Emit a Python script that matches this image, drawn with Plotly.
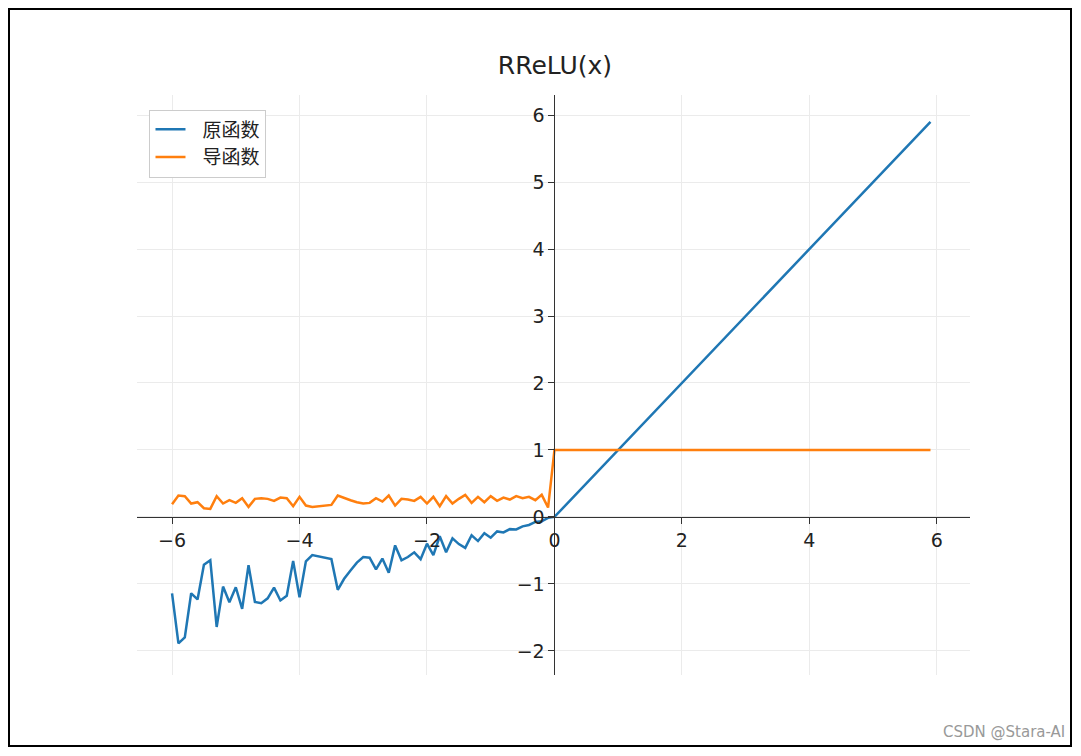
import numpy as np
import plotly.graph_objects as go

x_neg = [round(-6.0 + 0.1*i, 1) for i in range(60)]
slopes = [0.19,0.32,0.31,0.20,0.22,0.13,0.12,0.31,0.20,0.25,
          0.21,0.28,0.15,0.27,0.28,0.27,0.24,0.29,0.28,0.16,
          0.30,0.17,0.15,0.16,0.17,0.18,0.32,0.28,0.25,0.22,
          0.20,0.21,0.28,0.23,0.32,0.17,0.27,0.26,0.24,0.30,
          0.20,0.30,0.16,0.31,0.20,0.27,0.33,0.21,0.30,0.22,
          0.31,0.24,0.29,0.26,0.31,0.28,0.30,0.25,0.33,0.14]
x_pos = [round(0.1*i, 1) for i in range(60)]

x = x_neg + x_pos
y = [a*v for a, v in zip(slopes, x_neg)] + x_pos
dy = slopes + [1.0]*len(x_pos)

fig = go.Figure()
fig.add_trace(go.Scatter(x=x, y=y, mode="lines", name="  原函数", line=dict(color="#1f77b4", width=2.5)))
fig.add_trace(go.Scatter(x=x, y=dy, mode="lines", name="  导函数", line=dict(color="#ff7f0e", width=2.5)))

FW, FH = 1065, 740
L, R, T, B = 129, 103, 87, 73
W, H = FW - L - R, FH - T - B
fig.update_layout(
    width=FW, height=FH, paper_bgcolor="white", plot_bgcolor="white",
    margin=dict(l=L, r=R, t=T, b=B),
    font=dict(family="DejaVu Sans, Noto Sans CJK SC", size=19, color="#222"),
    title=dict(text="RReLU(x)", x=547/FW, xanchor="center", y=1-57/FH, yanchor="middle", font=dict(size=25)),
    legend=dict(x=0.015, y=0.975, xanchor="left", yanchor="top", bordercolor="#ccc", borderwidth=1,
                bgcolor="white", font=dict(size=19), tracegroupgap=4),
    xaxis=dict(range=[-6.55, 6.52], tickvals=[-6,-4,-2,0,2,4,6], ticktext=["−6","−4","−2","0","2","4","6"],
               anchor="free", position=2.36/8.66, showline=True, linecolor="#333", ticks="outside",
               tickcolor="#333", ticklen=6, showgrid=True, gridcolor="#ebebeb", zeroline=False),
    yaxis=dict(range=[-2.36, 6.3], tickvals=[-2,-1,0,1,2,3,4,5,6], ticktext=["−2","−1","0","1","2","3","4","5","6"],
               anchor="free", position=6.55/13.07, showline=True, linecolor="#333", ticks="outside",
               tickcolor="#333", ticklen=6, showgrid=True, gridcolor="#ebebeb", zeroline=False),
    shapes=[dict(type="rect", xref="paper", yref="paper", x0=(-L+1)/W, x1=1+(R-2)/W, y0=(-B+2)/H, y1=1+(T-1)/H,
                 line=dict(color="black", width=2))],
    annotations=[dict(text="CSDN @Stara-AI", xref="paper", yref="paper", x=1+(R-6)/W, y=-(B-16)/H,
                      xanchor="right", yanchor="middle", showarrow=False, font=dict(size=15, color="#999"))],
)
fig.write_html("out.html")
